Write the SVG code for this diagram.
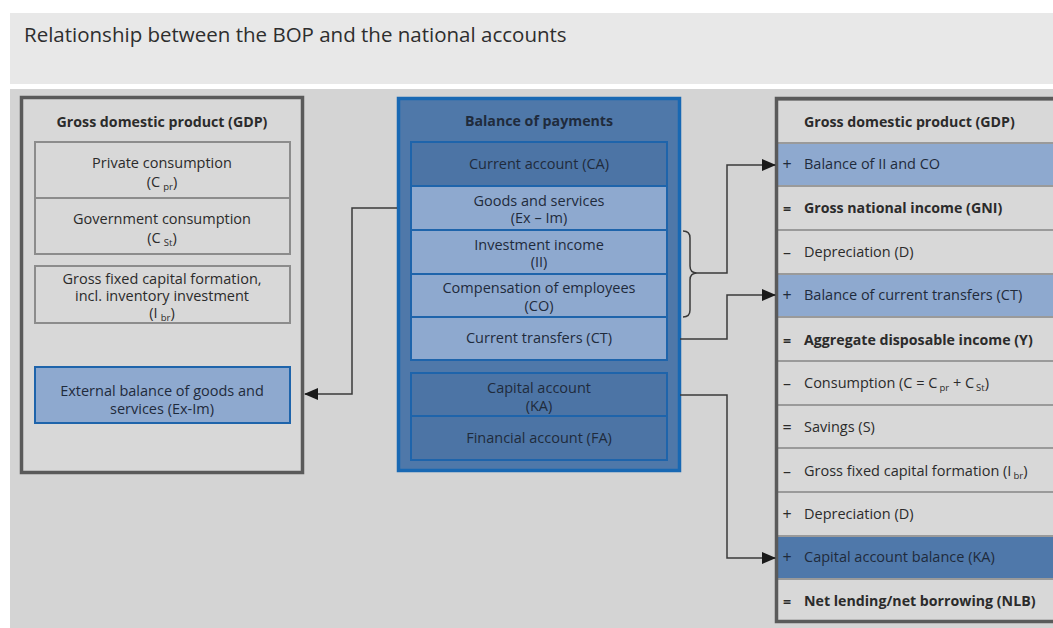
<svg xmlns="http://www.w3.org/2000/svg" width="1053" height="628" viewBox="0 0 1053 628">
<defs>
<marker id="ah" markerWidth="14" markerHeight="12" refX="13" refY="6" orient="auto" markerUnits="userSpaceOnUse">
<path d="M0,0 L14,6 L0,12 Z" fill="#1a1a1a"/>
</marker>
<style>
text{font-family:"Open Sans","Noto Sans","DejaVu Sans",sans-serif;font-size:14.5px;fill:#2b2b2b}
.c{text-anchor:middle}
.s{text-anchor:middle;font-size:16px}
.b{font-weight:bold;font-size:14.2px}
.t{font-size:20.5px;fill:#2e2e2e}
.sub{font-size:9.5px}
.outerG{fill:#d8d8d8;stroke:#5a5a5a;stroke-width:3.5}
.inG{fill:#d8d8d8;stroke:#8c8c8c;stroke-width:2}
.inLB{fill:#8ea9cf;stroke:#1e64ab;stroke-width:2}
.inDB{fill:#4c74a5;stroke:#1e64ab;stroke-width:2}
.outerB{fill:#4f78a9;stroke:#1868b3;stroke-width:3.5}
.rowG{fill:#d8d8d8;stroke:#9a9a9a;stroke-width:2}
.rowLB{fill:#8ea9cf;stroke:#9a9a9a;stroke-width:2}
.rowDB{fill:#4f78aa;stroke:#9a9a9a;stroke-width:2}
.ln{fill:none;stroke:#3a3a3a;stroke-width:1.5}
.bt{fill:#1f2b3c}
</style>
</defs>
<rect x="0" y="0" width="1053" height="628" fill="#ffffff"/>
<rect x="10" y="13" width="1043" height="71" fill="#e8e8e8"/>
<rect x="10" y="89" width="1043" height="539" fill="#d4d4d4"/>
<text class="t" x="24" y="42">Relationship between the BOP and the national accounts</text>

<g id="left-gdp">
<rect class="outerG" x="21.5" y="97.5" width="281" height="375"/>
<text class="b c" x="162" y="127">Gross domestic product (GDP)</text>
</g>
<g id="private-consumption">
<rect class="inG" x="35" y="142" width="255" height="56"/>
<text class="c" x="162" y="168">Private consumption</text>
<text class="c" x="162" y="187">(C<tspan class="sub" dx="3" dy="3">pr</tspan><tspan dy="-3">)</tspan></text>
</g>
<g id="government-consumption">
<rect class="inG" x="35" y="198" width="255" height="56"/>
<text class="c" x="162" y="224">Government consumption</text>
<text class="c" x="162" y="243">(C<tspan class="sub" dx="3" dy="3">St</tspan><tspan dy="-3">)</tspan></text>
</g>
<g id="gfcf">
<rect class="inG" x="35" y="266" width="255" height="57"/>
<text class="c" x="162" y="284">Gross fixed capital formation,</text>
<text class="c" x="162" y="301">incl. inventory investment</text>
<text class="c" x="162" y="318">(I<tspan class="sub" dx="3" dy="3">br</tspan><tspan dy="-3">)</tspan></text>
</g>
<g id="external-balance">
<rect class="inLB" x="35" y="367" width="255" height="56"/>
<text class="c bt" x="162" y="396">External balance of goods and</text>
<text class="c bt" x="162" y="414">services (Ex-Im)</text>
</g>

<g id="bop">
<rect class="outerB" x="398.5" y="98.5" width="281" height="372"/>
<text class="b c bt" x="539" y="126">Balance of payments</text>
</g>
<g id="current-account">
<rect class="inDB" x="411" y="142" width="256" height="44"/>
<text class="c bt" x="539" y="169">Current account (CA)</text>
</g>
<g id="goods-services">
<rect class="inLB" x="411" y="186" width="256" height="44"/>
<text class="c bt" x="539" y="206">Goods and services</text>
<text class="c bt" x="539" y="223">(Ex – Im)</text>
</g>
<g id="investment-income">
<rect class="inLB" x="411" y="230" width="256" height="44"/>
<text class="c bt" x="539" y="250">Investment income</text>
<text class="c bt" x="539" y="267">(II)</text>
</g>
<g id="compensation">
<rect class="inLB" x="411" y="274" width="256" height="43"/>
<text class="c bt" x="539" y="293">Compensation of employees</text>
<text class="c bt" x="539" y="311">(CO)</text>
</g>
<g id="current-transfers">
<rect class="inLB" x="411" y="317" width="256" height="43"/>
<text class="c bt" x="539" y="343">Current transfers (CT)</text>
</g>
<g id="capital-account">
<rect class="inDB" x="411" y="373" width="256" height="43"/>
<text class="c bt" x="539" y="393">Capital account</text>
<text class="c bt" x="539" y="411">(KA)</text>
</g>
<g id="financial-account">
<rect class="inDB" x="411" y="416" width="256" height="44"/>
<text class="c bt" x="539" y="443">Financial account (FA)</text>
</g>

<g id="right-gdp">
<rect class="rowG" x="777" y="100" width="290" height="43"/>
<text class="b" x="804" y="127">Gross domestic product (GDP)</text>
</g>
<g id="balance-ii-co">
<rect class="rowLB" x="777" y="143" width="290" height="43"/>
<text class="bt s" x="787" y="170">+</text><text class="bt" x="804" y="169">Balance of II and CO</text>
</g>
<g id="gni">
<rect class="rowG" x="777" y="186" width="290" height="44"/>
<text class="b s" x="787" y="214">=</text><text class="b" x="804" y="213">Gross national income (GNI)</text>
</g>
<g id="depreciation1">
<rect class="rowG" x="777" y="230" width="290" height="44"/>
<text class="s" x="787" y="258">–</text><text x="804" y="257">Depreciation (D)</text>
</g>
<g id="balance-ct">
<rect class="rowLB" x="777" y="274" width="290" height="43"/>
<text class="bt s" x="787" y="301">+</text><text class="bt" x="804" y="300">Balance of current transfers (CT)</text>
</g>
<g id="aggregate-income">
<rect class="rowG" x="777" y="317" width="290" height="44"/>
<text class="b s" x="787" y="346">=</text><text class="b" x="804" y="345">Aggregate disposable income (Y)</text>
</g>
<g id="consumption">
<rect class="rowG" x="777" y="361" width="290" height="44"/>
<text class="s" x="787" y="389">–</text><text x="804" y="388">Consumption (C = C<tspan class="sub" dx="2" dy="3">pr</tspan><tspan dy="-3"> + C</tspan><tspan class="sub" dx="2" dy="3">St</tspan><tspan dy="-3">)</tspan></text>
</g>
<g id="savings">
<rect class="rowG" x="777" y="405" width="290" height="43"/>
<text class="s" x="787" y="433">=</text><text x="804" y="432">Savings (S)</text>
</g>
<g id="gfcf-right">
<rect class="rowG" x="777" y="448" width="290" height="44"/>
<text class="s" x="787" y="477">–</text><text x="804" y="476">Gross fixed capital formation (I<tspan class="sub" dx="2" dy="3">br</tspan><tspan dy="-3">)</tspan></text>
</g>
<g id="depreciation2">
<rect class="rowG" x="777" y="492" width="290" height="44"/>
<text class="s" x="787" y="520">+</text><text x="804" y="519">Depreciation (D)</text>
</g>
<g id="capital-account-balance">
<rect class="rowDB" x="777" y="536" width="290" height="43"/>
<text class="bt s" x="787" y="563">+</text><text class="bt" x="804" y="562">Capital account balance (KA)</text>
</g>
<g id="net-lending">
<rect class="rowG" x="777" y="579" width="290" height="43"/>
<text class="b s" x="787" y="607">=</text><text class="b" x="804" y="606">Net lending/net borrowing (NLB)</text>
</g>
<rect x="776.5" y="98.5" width="300" height="523" fill="none" stroke="#5a5a5a" stroke-width="3.5"/>

<g id="connectors">
<path class="ln" d="M397,208 H352 V394 H305" marker-end="url(#ah)"/>
<path class="ln" d="M683,231 Q690,231 690,238 V266 Q690,273 697,273 Q690,273 690,280 V310 Q690,317 683,317"/>
<path class="ln" d="M697,273 H727 V165 H775" marker-end="url(#ah)"/>
<path class="ln" d="M680,339 H727 V295 H775" marker-end="url(#ah)"/>
<path class="ln" d="M680,395 H727 V558 H775" marker-end="url(#ah)"/>
</g>
</svg>
